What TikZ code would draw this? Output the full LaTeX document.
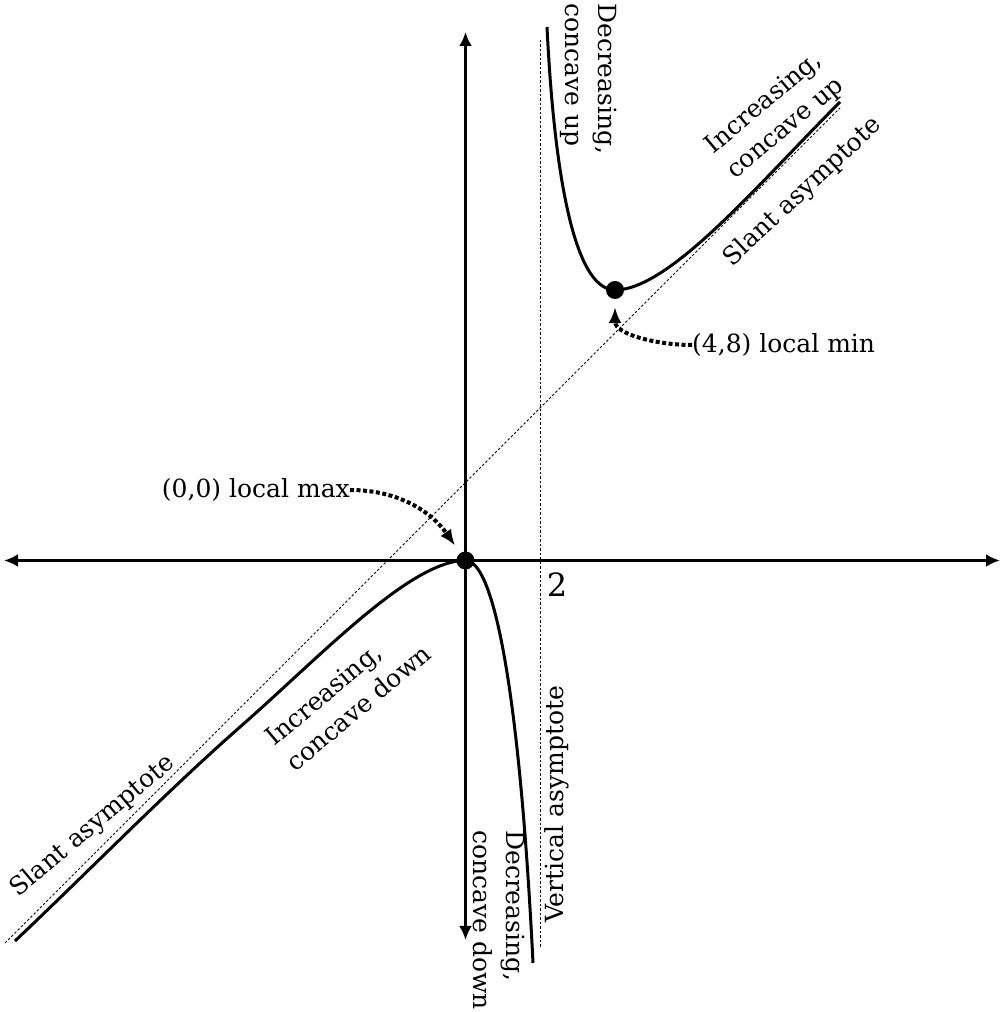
\documentclass[tikz,border=0pt]{standalone}
\usepackage{fontspec}
\setmainfont{DejaVu Serif}
\usetikzlibrary{arrows.meta}
\begin{document}
\begin{tikzpicture}[x=1pt,y=1pt,
  lbl/.style={font=\fontsize{25}{33}\selectfont, inner sep=0pt, align=left},
  curve/.style={line width=3pt},
  axis/.style={line width=3pt, {Latex[length=14pt,width=13pt]}-{Latex[length=14pt,width=13pt]}},
  asym/.style={line width=1pt, dash pattern=on 2.5pt off 2pt},
  note/.style={line width=4pt, dash pattern=on 4pt off 2.5pt, -{Latex[length=16pt,width=13pt]}},
  pt/.style={circle, fill=black, minimum size=18pt, inner sep=0pt}]
\useasboundingbox (0,0) rectangle (1001,1012);
% axes
\coordinate (xl) at (4,451.5);
\coordinate (xr) at (1000,451.5);
\coordinate (yb) at (465.5,72);
\coordinate (yt) at (465.5,980);
\draw[axis] (xl) -- (xr);
\draw[axis] (yb) -- (yt);
% asymptotes
\coordinate (vb) at (540.7,65);
\coordinate (vt) at (540.7,972);
\coordinate (sb) at (5,69);
\coordinate (st) at (840,904);
\draw[asym] (vb) -- (vt);
\draw[asym] (sb) -- (st);
% points
\node[pt] (o) at (465.5,451.5) {};
\node[pt] (m) at (615,722) {};
% right branch
\coordinate (ra) at (547,985);
\coordinate (re) at (840,910);
\draw[curve] (ra) .. controls (553,862) and (570,722) .. (m.center)
  .. controls (670,722) and (760,830) .. (re);
% left branch
\coordinate (la) at (15,71);
\coordinate (lm) at (240,285);
\coordinate (ld) at (533,49);
\draw[curve] (la) .. controls (90,142) and (165,219) .. (lm)
  .. controls (320,355) and (410,451.5) .. (o.center)
  .. controls (495,451.5) and (520,312) .. (ld);
% labels
\node[lbl, font=\fontsize{32}{33}\selectfont] (two) at (557,427) {2};
\node[lbl, anchor=east] (maxl) at (350,522) {(0,0) local max};
\node[lbl, anchor=west] (minl) at (692,667) {(4,8) local min};
\draw[note, shorten >=9pt] (maxl.east) to[out=0,in=125] (o);
\draw[note, shorten >=8pt] (minl.west) to[out=180,in=-90] (m);
\node[lbl, rotate=40] (iu) at (775,896) {Increasing,\\concave up};
\node[lbl, rotate=43] (sa1) at (803,820) {Slant asymptote};
\node[lbl, rotate=40] (sa2) at (93,186) {Slant asymptote};
\node[lbl, rotate=40] (id) at (348,317) {Increasing,\\concave down};
\node[lbl, rotate=-90, anchor=west] (du) at (589,1009) {Decreasing,\\concave up};
\node[lbl, rotate=-90, anchor=west] (dd) at (499,182) {Decreasing,\\concave down};
\node[lbl, rotate=90, anchor=west] (va) at (557,89) {Vertical asymptote};
\end{tikzpicture}
\end{document}
